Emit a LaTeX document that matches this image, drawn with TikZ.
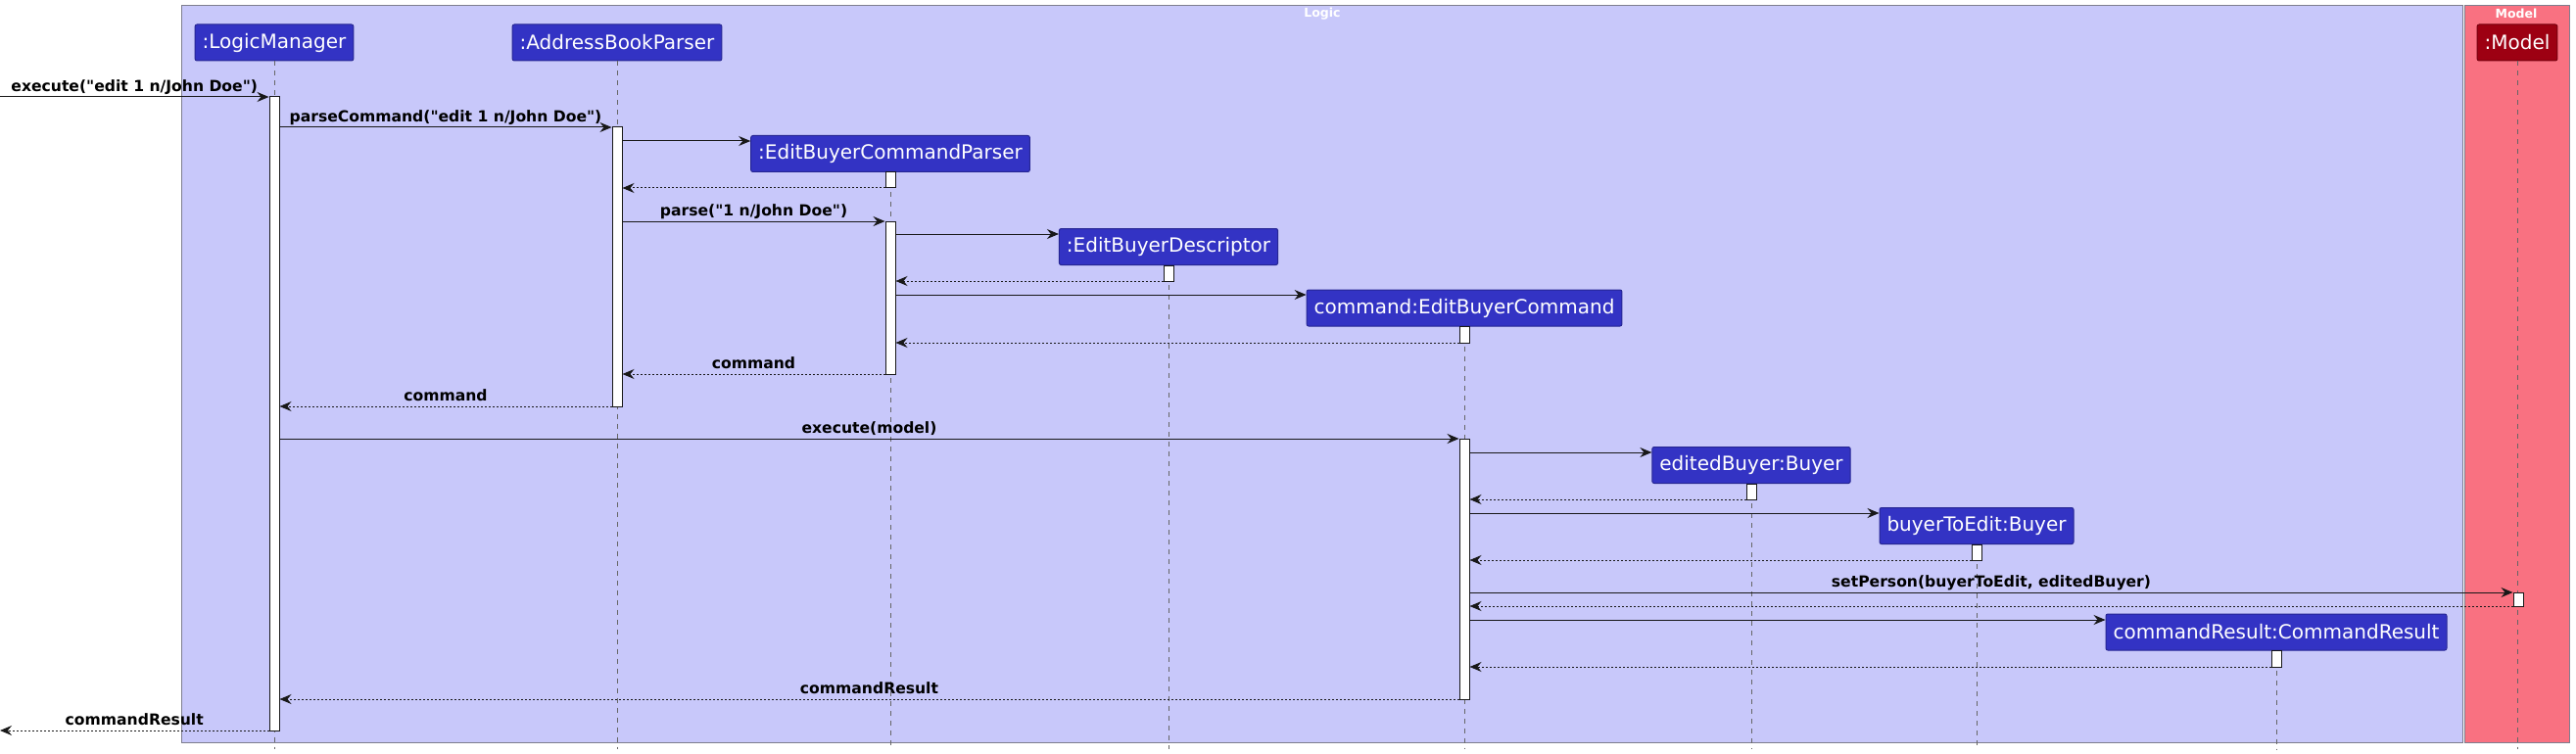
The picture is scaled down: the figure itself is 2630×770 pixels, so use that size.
\documentclass[tikz,border=0pt]{standalone}
\usepackage{fontspec}
\setmainfont{DejaVu Sans}
\newfontfamily\msgfont{DejaVu Sans}
\usetikzlibrary{arrows.meta}
\definecolor{logicbg}{HTML}{C8C8FA}
\definecolor{modelbg}{HTML}{F97181}
\definecolor{logicc}{HTML}{3333C4}
\definecolor{modelc}{HTML}{9D0012}
\definecolor{linec}{HTML}{181818}
\definecolor{boxline}{HTML}{7E7E8E}
\newcommand{\actbar}[4]{\node[act, minimum height={#4pt-#3pt}] (#1) at (#2,{(#3+#4)/2}) {};}
\newcommand{\msgline}[5]{\coordinate (r#4) at (0,#4); \draw[#1] (#2 |- r#4) -- (#3 |- r#4) node[lbl, midway]{#5};}
\begin{document}
\begin{tikzpicture}[x=1pt,y=-1pt,
 part/.style={rectangle, rounded corners=2pt, fill=logicc, draw=logicc!75!black, line width=1pt, text=white, font=\fontsize{20}{24}\selectfont, minimum height=37pt, inner xsep=7.5pt, inner ysep=0pt},
 mpart/.style={part, fill=modelc, draw=modelc!75!black},
 act/.style={rectangle, draw=linec, fill=white, line width=1pt, minimum width=10pt, inner sep=0pt},
 life/.style={draw=black!60, line width=0.8pt, dash pattern=on 5pt off 5pt},
 call/.style={draw=linec, line width=1pt, -{Stealth[length=12pt,width=10pt,inset=4pt]}},
 ret/.style={call, dash pattern=on 2pt off 2pt},
 lbl/.style={font=\msgfont\bfseries\fontsize{15.6}{18}\selectfont, anchor=base, yshift=5.5pt, inner sep=0pt, text=black},
 grp/.style={draw=boxline, line width=1pt},
 grpt/.style={text=white, font=\bfseries\fontsize{12.5}{15}\selectfont, inner sep=0pt}
]
\useasboundingbox (0,0) rectangle (2630,770);
% groups
\draw[grp, fill=logicbg] (185,6) rectangle (2514,758);
\draw[grp, fill=modelbg] (2516,6) rectangle (2623,758);
\node[grpt] (logicT) at (1350,14) {Logic};
\node[grpt] (modelT) at (2569,14) {Model};
% participants
\node[part] (lm) at (280,43.5) {:LogicManager};
\node[part] (abp) at (630,43.5) {:AddressBookParser};
\node[part] (ecp) at (909,157) {:EditBuyerCommandParser};
\node[part] (ebd) at (1193,252) {:EditBuyerDescriptor};
\node[part] (cmd) at (1495,314.5) {command:EditBuyerCommand};
\node[part] (edb) at (1788,475) {editedBuyer:Buyer};
\node[part] (bte) at (2018,537) {buyerToEdit:Buyer};
\node[part] (cr) at (2324,645.5) {commandResult:CommandResult};
\node[mpart] (mdl) at (2570,43.5) {:Model};
% lifelines
\coordinate (rend) at (0,765);
\foreach \p in {lm,abp,ecp,ebd,cmd,edb,bte,cr,mdl}{
  \draw[life] (\p.south) -- (\p.south |- rend);
}
% activations
\actbar{lmA}{280}{99}{746}
\actbar{abpA}{630}{130}{415}
\actbar{ecpA}{909}{176}{192}
\actbar{ecpB}{909}{226}{382}
\actbar{ebdA}{1193}{271}{287}
\actbar{cmdA}{1495}{333}{350}
\actbar{cmdB}{1495}{448}{714}
\actbar{edbA}{1788}{494}{510}
\actbar{bteA}{2018}{556}{572}
\actbar{mdlA}{2571}{605}{619}
\actbar{crA}{2324}{664}{681}
% messages
\coordinate (in) at (0,99);
\coordinate (out) at (0,746);
\draw[call] (in) -- (lmA.west |- in) node[lbl, midway]{execute("edit 1 n/John Doe")};
\msgline{call}{lmA.east}{abpA.west}{130}{parseCommand("edit 1 n/John Doe")}
\msgline{call}{abpA.east}{ecp.west}{144}{}
\msgline{ret}{ecpA.west}{abpA.east}{192}{}
\msgline{call}{abpA.east}{ecpB.west}{226}{parse("1 n/John Doe")}
\msgline{call}{ecpB.east}{ebd.west}{239}{}
\msgline{ret}{ebdA.west}{ecpB.east}{287}{}
\msgline{call}{ecpB.east}{cmd.west}{301}{}
\msgline{ret}{cmdA.west}{ecpB.east}{350}{}
\msgline{ret}{ecpB.west}{abpA.east}{382}{command}
\msgline{ret}{abpA.west}{lmA.east}{415}{command}
\msgline{call}{lmA.east}{cmdB.west}{448}{execute(model)}
\msgline{call}{cmdB.east}{edb.west}{462}{}
\msgline{ret}{edbA.west}{cmdB.east}{510}{}
\msgline{call}{cmdB.east}{bte.west}{524}{}
\msgline{ret}{bteA.west}{cmdB.east}{572}{}
\msgline{call}{cmdB.east}{mdlA.west}{605}{setPerson(buyerToEdit, editedBuyer)}
\msgline{ret}{mdlA.west}{cmdB.east}{619}{}
\msgline{call}{cmdB.east}{cr.west}{633}{}
\msgline{ret}{crA.west}{cmdB.east}{681}{}
\msgline{ret}{cmdB.west}{lmA.east}{714}{commandResult}
\draw[ret] (lmA.west |- out) -- (out) node[lbl, midway]{commandResult};
\end{tikzpicture}
\end{document}
